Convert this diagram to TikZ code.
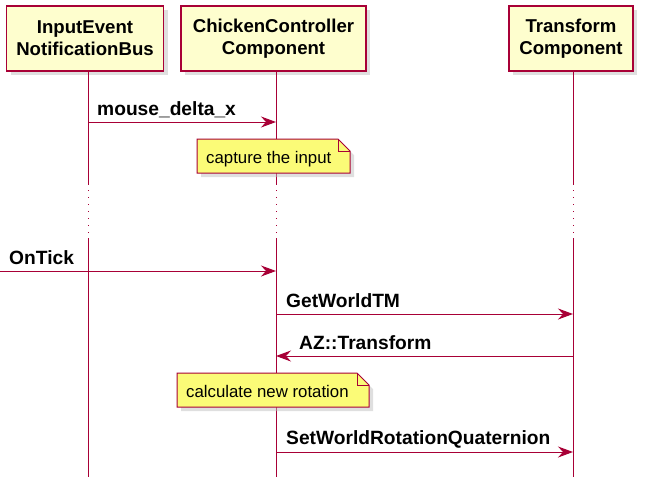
\documentclass[tikz,border=0pt]{standalone}
\usepackage{fontspec}
\setmainfont{Liberation Sans}
\usepackage{tikz}
\usepackage{xcolor}
\usetikzlibrary{arrows.meta,shadows}

\definecolor{umlred}{HTML}{A80036}
\definecolor{umlbox}{HTML}{FEFECE}
\definecolor{umlnote}{HTML}{FBFB77}

\begin{document}
\begin{tikzpicture}[x=1pt,y=-1pt,
  participant/.style={draw=umlred,fill=umlbox,line width=1.5pt,align=center,minimum height=65pt,inner sep=0pt,font=\bfseries\fontsize{18.6}{22}\selectfont,drop shadow={shadow xshift=4pt,shadow yshift=-4pt,fill=black!25}},
  lifeline/.style={draw=umlred,line width=1pt},
  delayline/.style={draw=umlred,line width=1pt,dash pattern=on 1pt off 6pt},
  msg/.style={draw=umlred,line width=1pt,-{Stealth[length=15pt,width=11pt,inset=5pt]}},
  msglabel/.style={anchor=base west,inner sep=0pt,font=\bfseries\fontsize{19.2}{22}\selectfont},
  notebox/.style={draw=umlred,fill=umlnote,line width=1pt,drop shadow={shadow xshift=4pt,shadow yshift=-4pt,fill=black!25}},
  notetext/.style={anchor=base west,inner sep=0pt,font=\fontsize{16.8}{20}\selectfont}]
\useasboundingbox (0,0) rectangle (650,483);
% participants
\node[participant,minimum width=157pt] (bus) at (85,38.5) {InputEvent\\NotificationBus};
\node[participant,minimum width=185pt] (ctrl) at (273.5,38.5) {ChickenController\\Component};
\node[participant,minimum width=124pt] (tf) at (571,38.5) {Transform\\Component};
% lifelines
\draw[lifeline] (88,71) -- (88,185);
\draw[delayline] (88,190) -- (88,234);
\draw[lifeline] (88,238) -- (88,477);
\draw[lifeline] (276,71) -- (276,185);
\draw[delayline] (276,190) -- (276,234);
\draw[lifeline] (276,238) -- (276,477);
\draw[lifeline] (573,71) -- (573,185);
\draw[delayline] (573,190) -- (573,234);
\draw[lifeline] (573,238) -- (573,477);
% mouse_delta_x
\coordinate (mdxA) at (88,122);
\coordinate (mdxB) at (276,122);
\draw[msg] (mdxA) -- (mdxB);
\node[msglabel] (lblmdx) at (97,115) {mouse\_delta\_x};
% note
\draw[notebox] (197,139) -- (338,139) -- (350,151) -- (350,173) -- (197,173) -- cycle;
\draw[draw=umlred,line width=1pt] (338,139) -- (338,151) -- (350,151);
\node[notetext] (noteinput) at (206,163) {capture the input};
% OnTick
\coordinate (tickA) at (0,271);
\coordinate (tickB) at (276,271);
\draw[msg] (tickA) -- (tickB);
\node[msglabel] (lbltick) at (9,264) {OnTick};
% GetWorldTM
\coordinate (gwA) at (276,314);
\coordinate (gwB) at (573,314);
\draw[msg] (gwA) -- (gwB);
\node[msglabel] (lblgw) at (286,307) {GetWorldTM};
% AZ::Transform
\coordinate (azA) at (573,356);
\coordinate (azB) at (276,356);
\draw[msg] (azA) -- (azB);
\node[msglabel] (lblaz) at (299,349) {AZ::Transform};
% note
\draw[notebox] (177,373) -- (357,373) -- (369,385) -- (369,407) -- (177,407) -- cycle;
\draw[draw=umlred,line width=1pt] (357,373) -- (357,385) -- (369,385);
\node[notetext] (noterot) at (186,397) {calculate new rotation};
% SetWorldRotationQuaternion
\coordinate (swA) at (276,452);
\coordinate (swB) at (573,452);
\draw[msg] (swA) -- (swB);
\node[msglabel] (lblsw) at (286,444) {SetWorldRotationQuaternion};
\end{tikzpicture}
\end{document}
